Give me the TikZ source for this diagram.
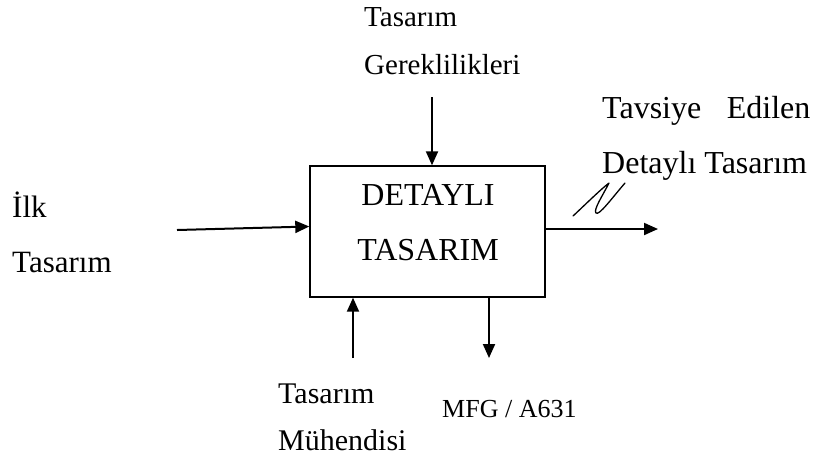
\documentclass[tikz,border=0pt]{standalone}
\usepackage{fontspec}
\setmainfont{Liberation Serif}
\usetikzlibrary{arrows.meta}
\begin{document}
\begin{tikzpicture}[x=1pt,y=-1pt,
  lbl/.style={inner sep=0pt,anchor=base west,font=\fontsize{30}{36}\selectfont},
  big/.style={inner sep=0pt,anchor=base west,font=\fontsize{32}{38}\selectfont},
  small/.style={inner sep=0pt,anchor=base west,font=\fontsize{26}{31}\selectfont},
  flow/.style={line width=2pt,-{Triangle[length=14pt,width=12pt]}},
  boxed/.style={draw,line width=1.4pt,minimum width=235pt,minimum height=131pt,inner sep=0pt}]
\useasboundingbox (0,0) rectangle (813,467);

% activity box
\node[boxed] (box) at (427.5,231.5) {};
\node[big,anchor=base] (t1) at (428,205) {DETAYLI};
\node[big,anchor=base] (t2) at (428,260) {TASARIM};

% labels
\node[lbl,font=\fontsize{29}{35}\selectfont] (ctl1) at (364,26) {Tasarım};
\node[lbl,font=\fontsize{29}{35}\selectfont] (ctl2) at (364,74) {Gereklilikleri};
\node[big] (out1) at (602,118) {Tavsiye\hspace{0.8em}Edilen};
\node[big] (out2) at (602,173) {Detaylı Tasarım};
\node[lbl,font=\fontsize{31}{37}\selectfont] (in1) at (12,217) {İlk};
\node[lbl,font=\fontsize{31}{37}\selectfont] (in2) at (12,272) {Tasarım};
\node[lbl] (mec1) at (278,403) {Tasarım};
\node[lbl] (mec2) at (278,450) {Mühendisi};
\node[small] (ref) at (442,417) {MFG / A631};

% free ends of the arrows
\coordinate (ctlTail) at (432,97);
\coordinate (inTail) at (177,230);
\coordinate (outTip) at (658,229);
\coordinate (mecTail) at (353,358);
\coordinate (refTip) at (489,358);

% connectors
\draw[flow] (ctlTail) -- (ctlTail |- box.north);
\draw[flow] (inTail) -- ([yshift=5pt]box.west);
\draw[flow] (outTip -| box.east) -- (outTip);
\draw[flow] (mecTail) -- (mecTail |- box.south);
\draw[flow] (refTip |- box.south) -- (refTip);

% hand-drawn mark on the output arrow
\draw[line width=1.3pt,line cap=round,line join=round]
  (573,216) .. controls (588,202) and (600,190) .. (609,183)
  .. controls (603,195) and (593,210) .. (596,213)
  .. controls (599,216) and (612,198) .. (625,183);
\end{tikzpicture}
\end{document}
